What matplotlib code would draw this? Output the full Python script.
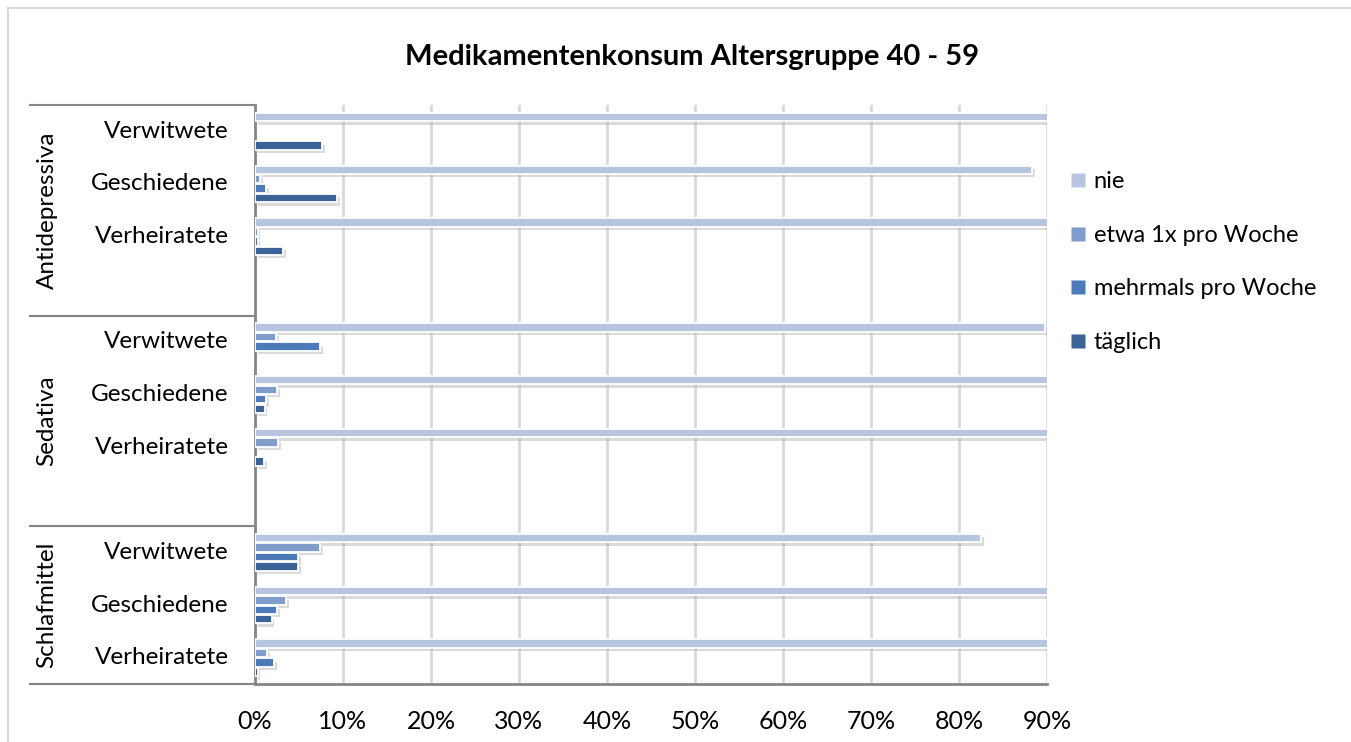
import matplotlib
matplotlib.use('Agg')
import matplotlib.pyplot as plt
import matplotlib.patheffects as pe
import matplotlib.transforms as mtransforms
from matplotlib.lines import Line2D
import numpy as np

plt.rcParams['font.family'] = ['Lato', 'DejaVu Sans']

title = 'Medikamentenkonsum Altersgruppe 40 - 59'
groups = ['Antidepressiva', 'Sedativa', 'Schlafmittel']
subgroups = ['Verwitwete', 'Geschiedene', 'Verheiratete']
series = ['nie', 'etwa 1x pro Woche', 'mehrmals pro Woche', 'täglich']
colors = ['#B7C5E0', '#7F9CCA', '#4D7BBA', '#3C6397']

# values in %, rows: group x subgroup (Verwitwete, Geschiedene, Verheiratete)
nie      = [92.4, 88.3, 96.2,  89.8, 95.2, 96.3,  82.5, 92.1, 96.1]
etwa     = [0.0, 0.6, 0.3,   2.4, 2.5, 2.6,   7.4, 3.5, 1.4]
mehrmals = [0.0, 1.3, 0.3,   7.4, 1.3, 0.0,   4.9, 2.5, 2.2]
taeglich = [7.6, 9.3, 3.2,   0.0, 1.1, 1.0,   4.9, 1.9, 0.3]
values = [nie, etwa, mehrmals, taeglich]

W, H = 1351, 742
fig = plt.figure(figsize=(W / 100, H / 100), dpi=100)
ax = fig.add_axes([255 / W, 1 - 684 / H, (1047 - 255) / W, (684 - 105) / H])

# slot layout: first two groups have an empty 4th slot
slots_per_group = [4, 4, 3]
starts = np.cumsum([0] + slots_per_group[:-1])
n_slots = sum(slots_per_group)
rows = []
for g in range(len(groups)):
    for s in range(len(subgroups)):
        rows.append(starts[g] + s + 0.5)
rows = np.array(rows)

bh = 0.16
step = 0.18
shadow = [pe.SimplePatchShadow(offset=(2, -2.5), shadow_rgbFace='#9A9A9A', alpha=0.35),
          pe.Normal()]
for i, (name, vals, c) in enumerate(zip(series, values, colors)):
    ypos = rows + (i - 1.5) * step
    bars = ax.barh(ypos, vals, height=bh, color=c, edgecolor='white', linewidth=1.3, zorder=3)
    for b, v in zip(bars, vals):
        if v > 0:
            b.set_path_effects(shadow)
        else:
            b.set_visible(False)

ax.set_xlim(0, 90)
ax.set_ylim(n_slots, 0)
ax.set_xticks(np.arange(0, 91, 10))
ax.set_xticklabels([f'{t}%' for t in range(0, 91, 10)], fontsize=18)
ax.tick_params(axis='x', length=0, pad=19)
ax.set_yticks([])
ax.grid(axis='x', color='#D9D9D9', linewidth=2, zorder=0)
ax.set_axisbelow(True)
for s in ['top', 'right']:
    ax.spines[s].set_visible(False)
for s in ['left', 'bottom']:
    ax.spines[s].set_color('#868686')
    ax.spines[s].set_linewidth(2)

trans = mtransforms.blended_transform_factory(ax.transAxes, ax.transData)
for y, lab in zip(rows, subgroups * len(groups)):
    ax.text(-0.033, y, lab, transform=trans, ha='right', va='center', fontsize=17.5)

x_outer = -(255 - 30) / (1047 - 255)
for g, name in enumerate(groups):
    ax.text(-0.2626, starts[g] + slots_per_group[g] / 2, name, transform=trans,
            rotation=90, ha='center', va='center', fontsize=17.5)
for y in list(starts) + [n_slots]:
    ax.plot([x_outer, 0], [y, y], transform=trans, color='#868686', lw=1.5, clip_on=False)

fig.text(692 / W, 1 - 57 / H, title, ha='center', va='center', fontsize=21, fontweight='bold')

handles = [Line2D([], [], marker='s', linestyle='none', markersize=10, markerfacecolor=c,
                  markeredgecolor='none') for c in colors]
fig.legend(handles, series, loc='upper left', bbox_to_anchor=(1050 / W, 1 - 150 / H),
           frameon=False, fontsize=17, handlelength=0.6, handletextpad=0.35, labelspacing=1.38)

# chart area border
fig.patches.append(plt.Rectangle((8 / W, -0.01), 1.02, 1 - 8 / H + 0.01, transform=fig.transFigure,
                                 fill=False, edgecolor='#D9D9D9', linewidth=1.5))

fig.savefig('out.png', dpi=100)
